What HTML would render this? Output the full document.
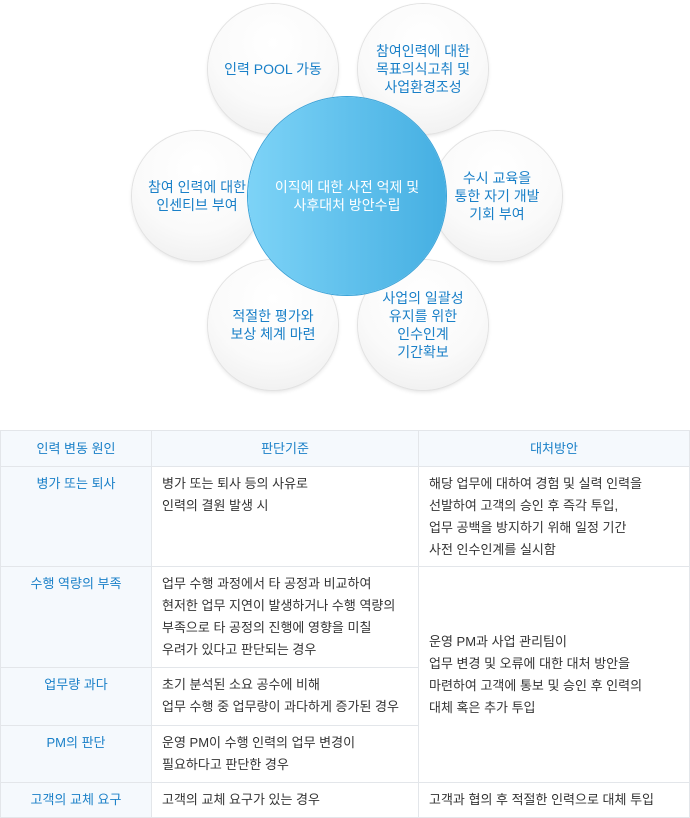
<!DOCTYPE html>
<html><head><meta charset="utf-8"><style>
body{margin:0;width:690px;height:817px;background:#fff;font-family:"Liberation Sans","Noto Sans CJK KR",sans-serif;position:relative;overflow:hidden}
.c{position:absolute;width:130px;height:130px;border-radius:50%;background:radial-gradient(circle at 50% 30%,#fff 0%,#fafafa 55%,#ececec 100%);box-shadow:0 0 0 1px #e2e2e2,0 2px 4px rgba(0,0,0,.12);display:flex;align-items:center;justify-content:center;text-align:center;color:#1a80c8;font-size:14px;line-height:18px}
.m{position:absolute;left:248px;top:97px;width:198px;height:198px;border-radius:50%;background:linear-gradient(90deg,#7dd3f7,#45afe2);box-shadow:0 0 0 1px #3ba3d8;display:flex;align-items:center;justify-content:center;text-align:center;color:#fff;font-size:14px;line-height:18px}
table{position:absolute;left:0;top:430px;width:690px;border-collapse:collapse;font-size:13px;color:#333}
td,th{border:1px solid #e3e6ea;vertical-align:top;line-height:22px;text-align:left;padding:6px 10px 0 10px}
th{font-weight:normal;color:#1a80c8;background:#f5f9fd;text-align:center;vertical-align:middle;height:30px;padding:0 10px}
td.h{background:#f5f9fd;color:#1a80c8;text-align:center}
td.v{vertical-align:middle}
</style></head><body>
<div class="c" style="left:208px;top:4px">인력 POOL 가동</div>
<div class="c" style="left:358px;top:4px">참여인력에 대한<br>목표의식고취 및<br>사업환경조성</div>
<div class="c" style="left:132px;top:131px">참여 인력에 대한<br>인센티브 부여</div>
<div class="c" style="left:432px;top:131px">수시 교육을<br>통한 자기 개발<br>기회 부여</div>
<div class="c" style="left:208px;top:260px">적절한 평가와<br>보상 체계 마련</div>
<div class="c" style="left:358px;top:260px">사업의 일괄성<br>유지를 위한<br>인수인계<br>기간확보</div>
<div class="m">이직에 대한 사전 억제 및<br>사후대처 방안수립</div>
<table>
<tr style="height:36px"><th style="width:130px">인력 변동 원인</th><th style="width:246px">판단기준</th><th>대처방안</th></tr>
<tr style="height:100px"><td class="h">병가 또는 퇴사</td><td>병가 또는 퇴사 등의 사유로<br>인력의 결원 발생 시</td><td>해당 업무에 대하여 경험 및 실력 인력을<br>선발하여 고객의 승인 후 즉각 투입,<br>업무 공백을 방지하기 위해 일정 기간<br>사전 인수인계를 실시함</td></tr>
<tr style="height:101px"><td class="h">수행 역량의 부족</td><td>업무 수행 과정에서 타 공정과 비교하여<br>현저한 업무 지연이 발생하거나 수행 역량의<br>부족으로 타 공정의 진행에 영향을 미칠<br>우려가 있다고 판단되는 경우</td><td class="v" rowspan="3" style="padding-top:0">운영 PM과 사업 관리팀이<br>업무 변경 및 오류에 대한 대처 방안을<br>마련하여 고객에 통보 및 승인 후 인력의<br>대체 혹은 추가 투입</td></tr>
<tr style="height:58px"><td class="h">업무량 과다</td><td>초기 분석된 소요 공수에 비해<br>업무 수행 중 업무량이 과다하게 증가된 경우</td></tr>
<tr style="height:57px"><td class="h">PM의 판단</td><td>운영 PM이 수행 인력의 업무 변경이<br>필요하다고 판단한 경우</td></tr>
<tr style="height:35px"><td class="h">고객의 교체 요구</td><td>고객의 교체 요구가 있는 경우</td><td>고객과 협의 후 적절한 인력으로 대체 투입</td></tr>
</table>
</body></html>
